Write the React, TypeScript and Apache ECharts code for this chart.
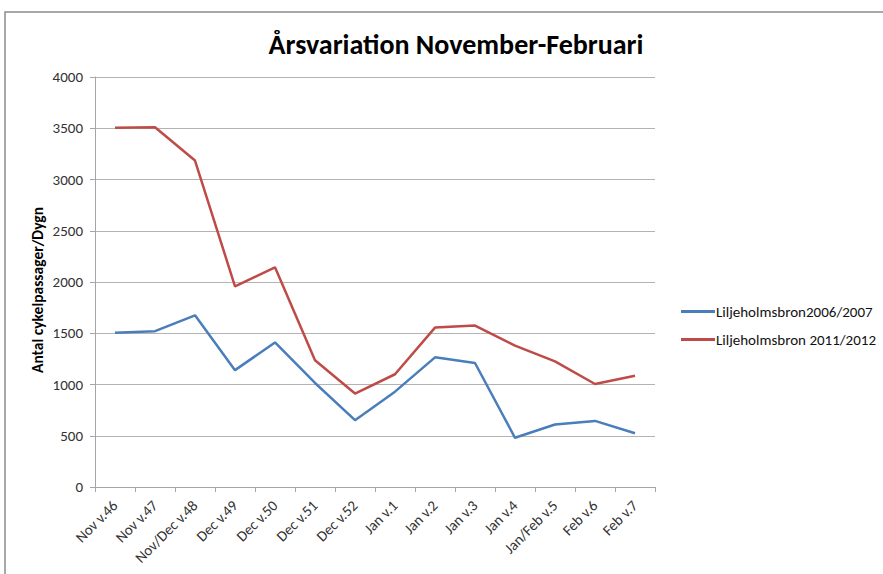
import React, { useEffect, useRef } from "react";
import * as echarts from "echarts";

const categories = [
  "Nov v.46", "Nov v.47", "Nov/Dec v.48", "Dec v.49", "Dec v.50", "Dec v.51", "Dec v.52",
  "Jan v.1", "Jan v.2", "Jan v.3", "Jan v.4", "Jan/Feb v.5", "Feb v.6", "Feb v.7",
];
const series2006 = [1505, 1520, 1675, 1140, 1410, 1015, 652, 930, 1265, 1210, 480, 610, 645, 525];
const series2011 = [3505, 3510, 3185, 1958, 2143, 1237, 912, 1100, 1555, 1575, 1380, 1225, 1005, 1085];
const yTicks = { min: 0, max: 4000, interval: 500 };

const FONT = "Carlito, 'Open Sans', 'Liberation Sans', sans-serif";

export default function App() {
  const ref = useRef<HTMLDivElement>(null);
  useEffect(() => {
    if (!ref.current) return;
    const chart = echarts.init(ref.current, undefined, { renderer: "svg" });
    chart.setOption({
      animation: false,
      backgroundColor: "#fff",
      textStyle: { fontFamily: FONT },
      graphic: [
        {
          type: "rect",
          shape: { x: 5, y: 12, width: 900, height: 600 },
          style: { fill: "none", stroke: "#8c8c8c", lineWidth: 1.5 },
          silent: true,
        },
      ],
      title: {
        text: "Årsvariation November-Februari",
        left: 451,
        textAlign: "center",
        top: 25,
        textStyle: { fontFamily: FONT, fontSize: 28, fontWeight: "bold", color: "#000" },
      },
      legend: {
        orient: "vertical",
        left: 676,
        top: 299,
        itemWidth: 34,
        itemHeight: 3,
        itemGap: 13,
        icon: "rect",
        textStyle: { fontFamily: FONT, fontSize: 15, color: "#111", padding: [0, 0, 0, -4] },
        data: ["Liljeholmsbron2006/2007", "Liljeholmsbron 2011/2012"],
      },
      grid: { left: 95, top: 77, right: 228, bottom: 87, containLabel: false },
      xAxis: {
        type: "category",
        data: categories,
        boundaryGap: true,
        axisLine: { lineStyle: { color: "#a6a6a6", width: 1 } },
        axisTick: { show: true, alignWithLabel: false, length: 5, lineStyle: { color: "#a6a6a6" } },
        axisLabel: { rotate: 45, fontSize: 15, color: "#333", interval: 0, margin: 16, fontFamily: FONT },
      },
      yAxis: {
        type: "value",
        min: yTicks.min,
        max: yTicks.max,
        interval: yTicks.interval,
        name: "Antal cykelpassager/Dygn",
        nameLocation: "middle",
        nameGap: 50,
        nameMoveOverlap: false,
        nameRotate: 90,
        nameTextStyle: {
          fontFamily: FONT,
          fontSize: 15.5,
          fontWeight: "bold",
          color: "#000",
          padding: [0, 16, 0, 0],
        },
        axisLine: { show: true, lineStyle: { color: "#a6a6a6", width: 1 } },
        axisTick: { show: true, length: 5, lineStyle: { color: "#a6a6a6" } },
        axisLabel: {
          fontSize: 15,
          color: "#333",
          margin: 12,
          fontFamily: FONT,
          formatter: (v: number) => String(v),
        },
        splitLine: { lineStyle: { color: "#b3b3b3", width: 1 } },
      },
      series: [
        {
          name: "Liljeholmsbron2006/2007",
          type: "line",
          data: series2006,
          symbol: "none",
          lineStyle: { color: "#4a7ebb", width: 2.5 },
          itemStyle: { color: "#4a7ebb" },
        },
        {
          name: "Liljeholmsbron 2011/2012",
          type: "line",
          data: series2011,
          symbol: "none",
          lineStyle: { color: "#be4b48", width: 2.5 },
          itemStyle: { color: "#be4b48" },
        },
      ],
    });
    return () => chart.dispose();
  }, []);
  return <div ref={ref} style={{ width: 883, height: 574, position: "absolute", left: 0, top: 0 }} />;
}
